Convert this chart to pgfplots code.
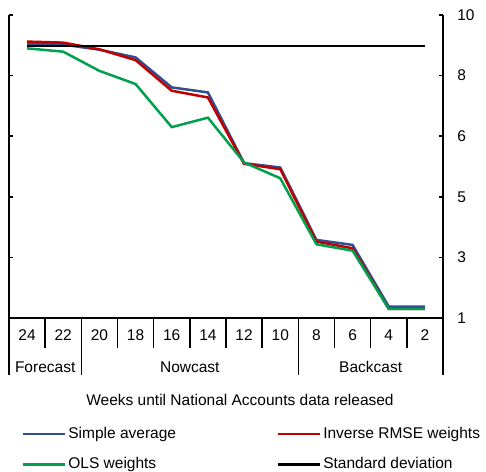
\documentclass[border=0pt]{standalone}
\usepackage{fontspec}
\setmainfont{Liberation Sans}
\usepackage{pgfplots}
\pgfplotsset{compat=1.18}
\definecolor{cblue}{HTML}{2F4F91}
\definecolor{cred}{HTML}{C00000}
\definecolor{cgreen}{HTML}{00A04E}
\begin{document}
\fontsize{15.5bp}{18bp}\selectfont
\begin{tikzpicture}
\path[use as bounding box] (-9bp,-154bp) rectangle (477bp,318bp);
\begin{axis}[
  width=434bp, height=303bp, scale only axis,
  xmin=-0.5, xmax=11.5, ymin=1, ymax=10,
  clip=false,
  axis x line*=bottom, axis y line*=right,
  axis line style={line width=1.5bp, black},
  ytick={1,2.8,4.6,6.4,8.2,10},
  yticklabel style={/pgf/number format/fixed, /pgf/number format/precision=0, xshift=9bp},
  /pgf/number format/assume math mode=true,
  tick align=inside, major tick length=4bp,
  ytick style={line width=1.5bp, black},
  xtick={0,...,11},
  xticklabels={24,22,20,18,16,14,12,10,8,6,4,2},
  xtick style={draw=none},
  xticklabel style={anchor=base, yshift=-22bp},
  every tick label/.append style={font=\fontsize{15.5bp}{18bp}\selectfont},
  legend columns=2,
  legend cell align=left,
  legend image code/.code={\draw[#1, line width=2.2bp] (0bp,0bp) -- (42bp,0bp);},
  legend style={draw=none, fill=none, at={(rel axis cs:0,0)}, anchor=north west,
    xshift=13bp, yshift=-107bp, inner sep=0pt,
    font=\fontsize{15.5bp}{18bp}\selectfont,
    row sep=13bp,
    /tikz/every even column/.append style={column sep=99bp}},
]
\addplot[cblue, line width=2.5bp] coordinates {(0,9.15)(1,9.12)(2,8.97)(3,8.74)(4,7.85)(5,7.70)(6,5.60)(7,5.47)(8,3.32)(9,3.17)(10,1.34)(11,1.34)};
\addlegendentry{Simple average}
\addplot[cred, line width=2.5bp] coordinates {(0,9.21)(1,9.18)(2,8.98)(3,8.66)(4,7.75)(5,7.55)(6,5.58)(7,5.42)(8,3.27)(9,3.07)(10,1.27)(11,1.27)};
\addlegendentry{Inverse RMSE weights}
\addplot[cgreen, line width=2.5bp] coordinates {(0,9.01)(1,8.91)(2,8.34)(3,7.95)(4,6.67)(5,6.95)(6,5.62)(7,5.15)(8,3.19)(9,3.00)(10,1.27)(11,1.27)};
\addlegendentry{OLS weights}
\addplot[black, line width=2.5bp] coordinates {(0,9.08)(1,9.08)(2,9.08)(3,9.08)(4,9.08)(5,9.08)(6,9.08)(7,9.08)(8,9.08)(9,9.08)(10,9.08)(11,9.08)};
\addlegendentry{Standard deviation}
% left axis line with inward ticks
\draw[line width=1.5bp] (axis cs:-0.5,1) -- (axis cs:-0.5,10);
\pgfplotsinvokeforeach{1,2.8,4.6,6.4,8.2,10}{\draw[line width=1.5bp] (axis cs:-0.5,#1) -- ++(4bp,0bp);}
% category separators
\pgfplotsinvokeforeach{0.5,2.5,3.5,4.5,5.5,6.5,8.5,9.5,10.5}{\draw[line width=1.5bp] (axis cs:#1,1) -- ++(0bp,-30bp);}
\pgfplotsinvokeforeach{-0.5,1.5,7.5,11.5}{\draw[line width=1.5bp] (axis cs:#1,1) -- ++(0bp,-57bp);}
\node[anchor=base] at ([yshift=-54bp]axis cs:0.5,1) {Forecast};
\node[anchor=base] at ([yshift=-54bp]axis cs:4.5,1) {Nowcast};
\node[anchor=base] at ([yshift=-54bp]axis cs:9.5,1) {Backcast};
\node[anchor=base] at ([xshift=14bp,yshift=-87bp]rel axis cs:0.5,0) {Weeks until National Accounts data released};
\end{axis}
\end{tikzpicture}
\end{document}
